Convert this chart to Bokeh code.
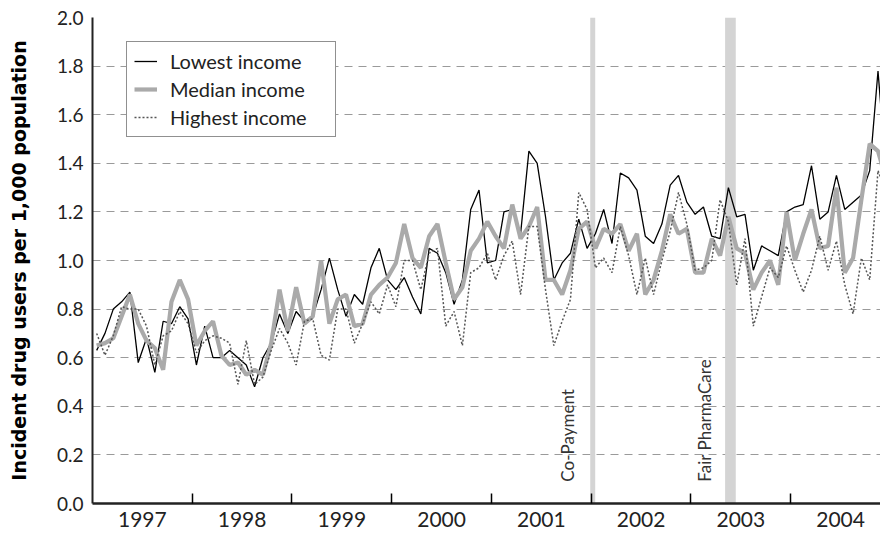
import math
from bokeh.plotting import figure
from bokeh.models import (ColumnDataSource, FixedTicker, NumeralTickFormatter,
                          Legend, LegendItem, Range1d)
from bokeh.core.properties import value
from bokeh.embed import file_html
from bokeh.resources import INLINE

# ---------------- data (monthly, Jan 1997 - Dec 2004) ----------------
start_year = 1997
lowest = [0.63, 0.70, 0.80, 0.83, 0.87, 0.58, 0.68, 0.54, 0.75, 0.74, 0.81, 0.76,
          0.57, 0.73, 0.60, 0.60, 0.63, 0.60, 0.57, 0.48, 0.60, 0.66, 0.78, 0.70,
          0.79, 0.75, 0.77, 0.88, 1.01, 0.88, 0.77, 0.86, 0.82, 0.97, 1.05, 0.92,
          0.88, 0.93, 0.85, 0.78, 1.05, 1.03, 0.95, 0.82, 0.92, 1.21, 1.29, 0.99,
          1.00, 1.20, 1.21, 1.11, 1.45, 1.40, 1.18, 0.92, 0.99, 1.03, 1.17, 1.05,
          1.11, 1.21, 1.07, 1.36, 1.34, 1.29, 1.10, 1.07, 1.15, 1.31, 1.35, 1.24,
          1.19, 1.22, 1.10, 1.09, 1.30, 1.18, 1.19, 0.96, 1.06, 1.04, 1.02, 1.20,
          1.22, 1.23, 1.39, 1.17, 1.20, 1.35, 1.21, 1.24, 1.27, 1.37, 1.78, 1.35]
median = [0.65, 0.66, 0.68, 0.77, 0.86, 0.74, 0.67, 0.64, 0.55, 0.83, 0.92, 0.84,
          0.65, 0.71, 0.75, 0.61, 0.57, 0.58, 0.53, 0.55, 0.53, 0.66, 0.88, 0.71,
          0.89, 0.74, 0.77, 1.00, 0.74, 0.84, 0.86, 0.73, 0.74, 0.86, 0.90, 0.93,
          0.99, 1.15, 1.01, 0.97, 1.10, 1.15, 0.99, 0.84, 0.89, 1.04, 1.09, 1.16,
          1.10, 1.05, 1.23, 1.09, 1.14, 1.22, 0.92, 0.92, 0.86, 0.96, 1.13, 1.16,
          1.05, 1.13, 1.11, 1.15, 1.04, 1.11, 0.86, 0.92, 1.04, 1.19, 1.11, 1.13,
          0.95, 0.95, 1.09, 1.02, 1.18, 1.05, 1.03, 0.88, 0.95, 1.00, 0.90, 1.20,
          1.00, 1.11, 1.21, 1.05, 1.06, 1.30, 0.95, 1.01, 1.25, 1.48, 1.45, 1.33]
highest = [0.70, 0.61, 0.69, 0.81, 0.80, 0.80, 0.73, 0.57, 0.69, 0.71, 0.79, 0.74,
           0.62, 0.67, 0.69, 0.68, 0.66, 0.49, 0.67, 0.49, 0.52, 0.63, 0.72, 0.66,
           0.57, 0.75, 0.76, 0.61, 0.59, 0.80, 0.80, 0.66, 0.74, 0.83, 0.78, 0.90,
           0.81, 1.00, 1.00, 0.88, 1.03, 1.05, 0.73, 0.79, 0.65, 0.95, 0.97, 1.03,
           0.92, 1.02, 1.08, 0.86, 1.14, 1.14, 0.88, 0.65, 0.75, 0.84, 1.28, 1.21,
           0.97, 1.01, 0.95, 1.14, 1.02, 0.86, 1.01, 0.86, 1.00, 1.12, 1.28, 1.15,
           0.96, 0.97, 1.00, 1.25, 1.16, 0.90, 1.09, 0.73, 0.85, 0.97, 0.93, 1.06,
           0.96, 0.87, 0.96, 1.10, 0.96, 1.08, 0.90, 0.78, 1.01, 0.92, 1.37, 1.28]
series_names = ["Lowest income", "Median income", "Highest income"]
years = [1997, 1998, 1999, 2000, 2001, 2002, 2003, 2004]
year_labels = ["1997", "1998", "1999", "2000", "2001", "2002", "2003", "2004"]
y_ticks = [0.0, 0.2, 0.4, 0.6, 0.8, 1.0, 1.2, 1.4, 1.6, 1.8, 2.0]
events = ["Co-Payment", "Fair PharmaCare"]
event_start = [2001.99, 2003.342]
event_end = [2002.04, 2003.449]

months = [start_year + (i + 0.5) / 12.0 for i in range(len(lowest))]
src = ColumnDataSource(dict(x=months, low=lowest, med=median, high=highest))

FONT = "Lato"

p = figure(width=880, height=536,
           x_range=Range1d(1997.0, 2004.9), y_range=Range1d(0.0, 2.0),
           output_backend="svg", toolbar_location=None,
           min_border_left=92, min_border_right=0, min_border_top=17,
           min_border_bottom=33)
p.outline_line_color = None
p.background_fill_color = "white"
p.border_fill_color = "white"

# grid
p.xgrid.grid_line_color = None
p.ygrid.grid_line_color = "#9a9a9a"
p.ygrid.grid_line_dash = "8 6"
p.ygrid.grid_line_width = 1.2

# event bands
ev_src = ColumnDataSource(dict(left=event_start, right=event_end,
                               mid=[(a + b) / 2 for a, b in zip(event_start, event_end)],
                               name=events))
p.quad(left="left", right="right", bottom=0, top=2.0, source=ev_src,
       fill_color="#d4d4d4", line_color=None)
p.text(x="mid", y=0.09, text="name", source=ev_src, angle=math.pi / 2,
       x_offset=-15, text_align="left", text_baseline="bottom",
       text_font=value(FONT), text_font_size="17px", text_color="#333333")

# series
r_low = p.line("x", "low", source=src, line_color="black", line_width=1.3)
r_med = p.line("x", "med", source=src, line_color="#aaaaaa", line_width=4.2)
r_high = p.line("x", "high", source=src, line_color="#555555", line_width=1.5,
                line_dash="2 2")

# x axis: labels centred in each year, inward ticks at year boundaries
xa = p.xaxis[0]
xa.ticker = FixedTicker(ticks=[y + 0.5 for y in years], minor_ticks=years[1:])
xa.major_label_overrides = {y + 0.5: lab for y, lab in zip(years, year_labels)}
xa.major_tick_in = 0
xa.major_tick_out = 0
xa.minor_tick_in = 10
xa.minor_tick_out = 0
xa.minor_tick_line_color = "black"
xa.minor_tick_line_width = 1.5
xa.axis_line_color = "#222222"
xa.axis_line_width = 2.5
xa.major_label_text_font = FONT
xa.major_label_text_font_size = "21px"
xa.major_label_text_color = "#222222"
xa.major_label_standoff = 8

ya = p.yaxis[0]
ya.ticker = FixedTicker(ticks=y_ticks)
ya.formatter = NumeralTickFormatter(format="0.0")
ya.major_tick_in = 0
ya.major_tick_out = 0
ya.minor_tick_line_color = None
ya.axis_line_color = "#222222"
ya.axis_line_width = 2
ya.major_label_text_font = FONT
ya.major_label_text_font_size = "19px"
ya.major_label_text_color = "#222222"
ya.major_label_standoff = 9
ya.axis_label = "Incident drug users per 1,000 population"
ya.axis_label_text_font = "DejaVu Sans"
ya.axis_label_text_font_style = "bold"
ya.axis_label_text_font_size = "19px"
ya.axis_label_text_color = "black"
ya.axis_label_standoff = 24

legend = Legend(items=[LegendItem(label=series_names[0], renderers=[r_low]),
                       LegendItem(label=series_names[1], renderers=[r_med]),
                       LegendItem(label=series_names[2], renderers=[r_high])],
                location=(34, 366))
legend.border_line_color = "#222222"
legend.border_line_width = 1.3
legend.background_fill_color = "white"
legend.background_fill_alpha = 1.0
legend.label_text_font = FONT
legend.label_text_font_size = "20px"
legend.label_text_color = "#222222"
legend.glyph_width = 23
legend.glyph_height = 20
legend.label_height = 20
legend.label_width = 158
legend.label_standoff = 13
legend.spacing = 4
legend.padding = 7
legend.margin = 0
p.add_layout(legend)

open("out.html", "w").write(file_html(p, INLINE))
